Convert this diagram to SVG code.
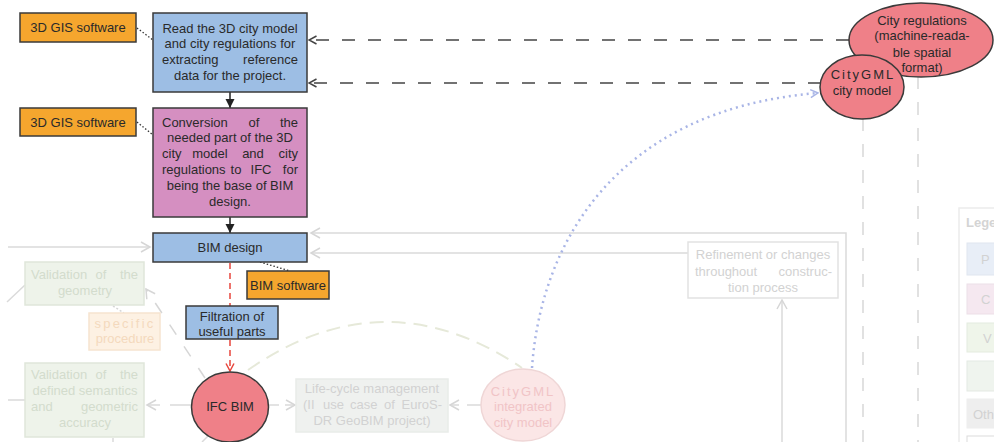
<svg xmlns="http://www.w3.org/2000/svg" width="994" height="442" viewBox="0 0 994 442">
<defs>
<style>
text{font-family:"Liberation Sans",Arial,sans-serif;font-size:13px;fill:#2a2a2a}
.c{text-anchor:middle}
.e{text-anchor:end}
.box{stroke:#3a3a3a;stroke-width:1.5}
.blue{fill:#9dbee4}
.pink{fill:#d58fc1}
.orange{fill:#f5a62e}
.red{fill:#ef8088}
.ft{fill:#d2d2d2}
.fg{fill:#d3dccd}
.fo{fill:#f4d9bd}
.fp{fill:#f1c4c6}
.lite{stroke:#dadada;stroke-width:1.5;fill:none}
</style>
<marker id="ah" markerUnits="userSpaceOnUse" markerWidth="10" markerHeight="10" refX="9" refY="5" orient="auto"><path d="M0,0.5 L9,5 L0,9.5 Z" fill="#222"/></marker>
<marker id="od" markerUnits="userSpaceOnUse" markerWidth="10" markerHeight="10" refX="8.5" refY="5" orient="auto"><path d="M1,1 L8.5,5 L1,9" fill="none" stroke="#444" stroke-width="1.5"/></marker>
<marker id="or" markerUnits="userSpaceOnUse" markerWidth="10" markerHeight="10" refX="8.5" refY="5" orient="auto"><path d="M1,1 L8.5,5 L1,9" fill="none" stroke="#e8453c" stroke-width="1.5"/></marker>
<marker id="ol" markerUnits="userSpaceOnUse" markerWidth="12" markerHeight="12" refX="10" refY="6" orient="auto"><path d="M1,1 L10,6 L1,11" fill="none" stroke="#d6d6d6" stroke-width="1.5"/></marker>
<marker id="ob" markerUnits="userSpaceOnUse" markerWidth="10" markerHeight="10" refX="8.5" refY="5" orient="auto"><path d="M1,1 L8.5,5 L1,9" fill="none" stroke="#a9b5e6" stroke-width="1.5"/></marker>
</defs>
<rect width="994" height="442" fill="#ffffff"/>

<g id="connectors">
<line x1="863" y1="118" x2="863" y2="442" stroke="#d8d8d8" stroke-width="1.5" stroke-dasharray="13 13"/>
<line x1="918" y1="76" x2="918" y2="442" stroke="#d8d8d8" stroke-width="1.5" stroke-dasharray="13 13"/>
<polyline points="846,442 846,233 311,233" class="lite" marker-end="url(#ol)"/>
<line x1="688" y1="253" x2="311" y2="253" class="lite" marker-end="url(#ol)"/>
<line x1="782" y1="442" x2="782" y2="300" class="lite" marker-end="url(#ol)"/>
<line x1="8" y1="247" x2="150" y2="247" class="lite" marker-end="url(#ol)"/>
<line x1="25" y1="285" x2="7" y2="302" class="lite"/>
<line x1="8" y1="400" x2="25" y2="400" class="lite"/>
<line x1="205" y1="378" x2="146" y2="289" stroke="#d6d6d6" stroke-width="1.5" stroke-dasharray="12 14" marker-end="url(#ol)"/>
<line x1="113" y1="306" x2="124" y2="313" stroke="#d6d6d6" stroke-width="1.5" stroke-dasharray="2 2"/>
<line x1="192" y1="405" x2="147" y2="405" class="lite" stroke-dasharray="22 10" marker-end="url(#ol)"/>
<line x1="269" y1="405" x2="295" y2="405" class="lite" stroke-dasharray="10 6" marker-end="url(#ol)"/>
<line x1="481" y1="405" x2="450" y2="405" class="lite" stroke-dasharray="14 8" marker-end="url(#ol)"/>
<line x1="208" y1="436" x2="202" y2="442" class="lite"/>
<line x1="113" y1="442" x2="113" y2="438" class="lite"/>
<path d="M248,370 Q385,275 522,368" fill="none" stroke="#e6e9d9" stroke-width="2" stroke-dasharray="14 8"/>
<path d="M532,368 C540,250 610,110 818,93" fill="none" stroke="#a9b5e6" stroke-width="2.5" stroke-dasharray="2 4" marker-end="url(#ob)"/>

<line x1="849" y1="40" x2="309" y2="40" stroke="#444" stroke-width="1.5" stroke-dasharray="13 13" marker-end="url(#od)"/>
<line x1="821" y1="83" x2="309" y2="83" stroke="#444" stroke-width="1.5" stroke-dasharray="13 13" marker-end="url(#od)"/>
<line x1="230" y1="92" x2="230" y2="108" stroke="#222" stroke-width="1.5" marker-end="url(#ah)"/>
<line x1="230" y1="217" x2="230" y2="233" stroke="#222" stroke-width="1.5" marker-end="url(#ah)"/>
<line x1="137" y1="28" x2="153" y2="40" stroke="#333" stroke-width="1.3" stroke-dasharray="1.5 2"/>
<line x1="137" y1="122" x2="153" y2="135" stroke="#333" stroke-width="1.3" stroke-dasharray="1.5 2"/>
<line x1="260" y1="262" x2="290" y2="271" stroke="#333" stroke-width="1.3" stroke-dasharray="1.5 2"/>
<line x1="230" y1="263" x2="230" y2="306" stroke="#e8453c" stroke-width="1.5" stroke-dasharray="6 4"/>
<line x1="230" y1="340" x2="230" y2="371" stroke="#e8453c" stroke-width="1.5" stroke-dasharray="6 4" marker-end="url(#or)"/>
</g>

<g id="val-geometry">
<rect x="25" y="262" width="119" height="43" fill="#eef3ea" stroke="#dfe6da" stroke-width="1.5"/>
<text class="fg" x="31" y="279">Validation</text><text class="fg c" x="101" y="279">of</text><text class="fg e" x="138" y="279">the</text>
<text class="fg c" x="85" y="295">geometry</text>
</g>
<g id="specific-procedure">
<rect x="89" y="313" width="71" height="37" fill="#fdf1e3" stroke="#f6e4d0" stroke-width="1.5"/>
<text class="fo c" x="125" y="328" letter-spacing="2.2">specific</text>
<text class="fo c" x="125" y="343">procedure</text>
</g>
<g id="val-semantics">
<rect x="25" y="363" width="119" height="74" fill="#eef3ea" stroke="#dfe6da" stroke-width="1.5"/>
<text class="fg" x="31" y="379">Validation</text><text class="fg c" x="101" y="379">of</text><text class="fg e" x="138" y="379">the</text>
<text class="fg c" x="85" y="395">defined semantics</text>
<text class="fg" x="31" y="411">and</text><text class="fg e" x="138" y="411">geometric</text>
<text class="fg c" x="85" y="427">accuracy</text>
</g>
<g id="life-cycle">
<rect x="296" y="379" width="152" height="53" fill="#eff1ef" stroke="#e9ece9" stroke-width="1.5"/>
<text class="ft c" x="372" y="393">Life-cycle management</text>
<text class="ft" x="303" y="409">(II</text><text class="ft" x="323" y="409">use</text><text class="ft" x="350" y="409">case</text><text class="ft" x="384" y="409">of</text><text class="ft e" x="442" y="409">EuroS-</text>
<text class="ft c" x="372" y="425">DR GeoBIM project)</text>
</g>
<g id="citygml-integrated">
<ellipse cx="523" cy="405" rx="42" ry="36" fill="#fbe6e6" stroke="#efd6d6" stroke-width="1.5"/>
<text class="fp c" x="523" y="396" letter-spacing="2">CityGML</text>
<text class="fp c" x="523" y="411">integrated</text>
<text class="fp c" x="523" y="427">city model</text>
</g>
<g id="refinement">
<rect x="688" y="242" width="150" height="56" fill="#ffffff" stroke="#e2e2e2" stroke-width="1.5"/>
<text class="ft c" x="763" y="259">Refinement or changes</text>
<text class="ft" x="695" y="276">throughout</text><text class="ft e" x="832" y="276">construc-</text>
<text class="ft c" x="763" y="292">tion process</text>
</g>
<g id="legend">
<rect x="959" y="208" width="40" height="240" fill="#ffffff" stroke="#ececec" stroke-width="1.5"/>
<text x="966" y="227" style="fill:#d4d4d4;font-weight:bold">Legend</text>
<rect x="967" y="243" width="40" height="32" fill="#e8eef7" stroke="#e0e6ef"/>
<text class="ft" x="981" y="264">P</text>
<rect x="967" y="284" width="40" height="30" fill="#f5e8f0" stroke="#ecdfe7"/>
<text class="ft" x="981" y="304">C</text>
<rect x="967" y="323" width="40" height="29" fill="#eff5ea" stroke="#e4ebdf"/>
<text class="ft" x="983" y="343">V</text>
<rect x="967" y="361" width="40" height="30" fill="#eff4ee" stroke="#e4e9e3"/>
<rect x="967" y="399" width="40" height="29" fill="#eeeeee" stroke="#eeeeee"/>
<text class="ft" x="973" y="419">Oth</text>
<rect x="967" y="436" width="40" height="12" fill="#ffffff" stroke="#dcdcdc"/>
</g>

<g id="gis-1">
<rect x="20" y="13" width="116" height="29" class="box orange"/>
<text class="c" x="78" y="32">3D GIS software</text>
</g>
<g id="gis-2">
<rect x="20" y="108" width="116" height="28" class="box orange"/>
<text class="c" x="78" y="127">3D GIS software</text>
</g>
<g id="read-model">
<rect x="153" y="13" width="154" height="79" class="box blue"/>
<text class="c" x="230" y="33">Read the 3D city model</text>
<text class="c" x="230" y="48">and city regulations for</text>
<text x="162" y="64">extracting</text><text class="e" x="298" y="64">reference</text>
<text class="c" x="230" y="80">data for the project.</text>
</g>
<g id="conversion">
<rect x="153" y="108" width="154" height="109" class="box pink"/>
<text x="162" y="127">Conversion</text><text class="c" x="254" y="127">of</text><text class="e" x="298" y="127">the</text>
<text class="c" x="230" y="142">needed part of the 3D</text>
<text x="162" y="158">city</text><text class="c" x="210" y="158">model</text><text class="c" x="253" y="158">and</text><text class="e" x="298" y="158">city</text>
<text x="162" y="174">regulations</text><text class="c" x="236" y="174">to</text><text class="c" x="261" y="174">IFC</text><text class="e" x="298" y="174">for</text>
<text class="c" x="230" y="190">being the base of BIM</text>
<text class="c" x="230" y="206">design.</text>
</g>
<g id="bim-design">
<rect x="153" y="233" width="154" height="29" class="box blue"/>
<text class="c" x="230" y="252">BIM design</text>
</g>
<g id="bim-software">
<rect x="247" y="271" width="82" height="28" class="box orange"/>
<text class="c" x="288" y="290">BIM software</text>
</g>
<g id="filtration">
<rect x="186" y="306" width="92" height="33" class="box blue"/>
<text class="c" x="232" y="321">Filtration of</text>
<text class="c" x="232" y="336">useful parts</text>
</g>
<g id="ifc-bim">
<ellipse cx="230" cy="407" rx="38.5" ry="35" class="box red"/>
<text class="c" x="230" y="411">IFC BIM</text>
</g>
<g id="city-regulations">
<ellipse cx="921" cy="40" rx="72" ry="37" class="box red"/>
<text class="c" x="922" y="25">City regulations</text>
<text class="c" x="922" y="40">(machine-reada-</text>
<text class="c" x="922" y="57">ble spatial</text>
<text class="c" x="922" y="72">format)</text>
</g>
<g id="citygml-city-model">
<ellipse cx="862" cy="87" rx="42" ry="32" class="box red"/>
<text class="c" x="863" y="79" letter-spacing="2">CityGML</text>
<text class="c" x="862" y="95">city model</text>
</g>
</svg>
